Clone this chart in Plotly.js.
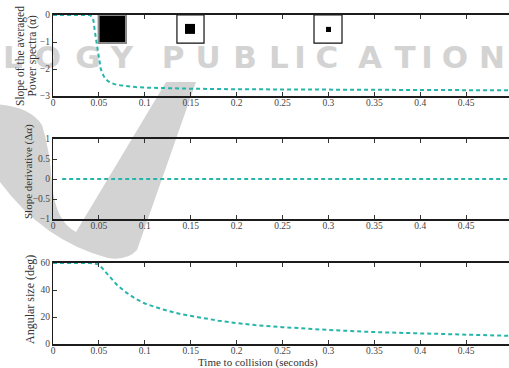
<!DOCTYPE html>
<html><head><meta charset="utf-8">
<script src="https://cdn.plot.ly/plotly-3.0.1.min.js"></script>
<style>html,body{margin:0;padding:0;background:#fff;} #chart{width:509px;height:368px;}</style>
</head><body><div id="chart"></div>
<script>
// ---- data ----
const timeSlope = [0, 0.02, 0.04, 0.042, 0.044, 0.046, 0.048, 0.05, 0.052, 0.055, 0.058, 0.062, 0.067, 0.073, 0.08, 0.09, 0.1, 0.12, 0.15, 0.2, 0.25, 0.3, 0.35, 0.4, 0.45, 0.5];
const slopeValues = [0, 0, 0, -0.05, -0.2, -0.7, -1.2, -1.65, -2.0, -2.25, -2.4, -2.5, -2.56, -2.6, -2.64, -2.67, -2.69, -2.71, -2.73, -2.75, -2.76, -2.77, -2.77, -2.78, -2.78, -2.79];
const timeDeriv = [0.01, 0.05, 0.1, 0.15, 0.2, 0.25, 0.3, 0.35, 0.4, 0.45, 0.5];
const derivValues = [0, 0, 0, 0, 0, 0, 0, 0, 0, 0, 0];
const timeAngle = [0, 0.02, 0.04, 0.05, 0.055, 0.06, 0.065, 0.07, 0.08, 0.09, 0.1, 0.11, 0.12, 0.14, 0.16, 0.18, 0.2, 0.22, 0.25, 0.28, 0.3, 0.35, 0.4, 0.45, 0.5];
const angleValues = [60, 60, 60, 59, 55, 51, 47, 43.5, 38, 33.5, 30, 27.5, 25.5, 22, 19.5, 17.3, 15.5, 14, 12.5, 11.2, 10.4, 8.8, 7.7, 6.8, 6.0];

const xTickVals = [0, 0.05, 0.1, 0.15, 0.2, 0.25, 0.3, 0.35, 0.4, 0.45, 0.5];
const xTickText = ['0', '0.05', '0.1', '0.15', '0.2', '0.25', '0.3', '0.35', '0.4', '0.45', '0.5'];
const slopeTickVals = [-3, -2, -1, 0];
const slopeTickText = ['\u22123', '\u22122', '\u22121', '0'];
const derivTickVals = [-1, -0.5, 0, 0.5, 1];
const derivTickText = ['\u22121', '\u22120.5', '0', '0.5', '1'];
const angleTickVals = [0, 20, 40, 60];
const angleTickText = ['0', '20', '40', '60'];

const titleSlope1 = 'Slope of the averaged';
const titleSlope2 = 'Power spectra (\u03b1)';
const titleDeriv = 'Slope derivative (\u0394\u03b1)';
const titleAngle = 'Angular size (deg)';
const titleTime = 'Time to collision (seconds)';
const watermarkText = 'LOGY PUBLICATION';

// ---- layout helpers ----
const W = 509, H = 368, L = 53, R = 509, T = 15, B = 344;
const px = p => (p - L) / (R - L);
const py = p => (B - p) / (B - T);
const FONT = '"Liberation Serif", "DejaVu Serif", serif';
const LINE = '#1c1c1c';
const TEAL = '#27b5aa';

function xAxis(anchor) {
  return {
    domain: [0, 1], range: [0, 0.4967], anchor: anchor,
    tickmode: 'array', tickvals: xTickVals, ticktext: xTickText,
    ticks: 'inside', ticklen: 4, tickwidth: 1, tickcolor: '#333',
    showline: true, linewidth: 1.6, linecolor: LINE, mirror: 'ticks',
    showgrid: false, zeroline: false, ticklabelstandoff: -3,
    tickfont: {family: FONT, size: 9.5, color: '#444'}
  };
}
function yAxis(anchor, domain, range, vals, text) {
  return {
    domain: domain, range: range, anchor: anchor,
    tickmode: 'array', tickvals: vals, ticktext: text,
    ticks: 'inside', ticklen: 4, tickwidth: 1, tickcolor: '#333',
    showline: true, linewidth: 1.2, linecolor: LINE, mirror: false,
    showgrid: false, zeroline: false,
    tickfont: {family: FONT, size: 9.5, color: '#444'}
  };
}
const lineStyle = {color: TEAL, width: 2, dash: '4px,3px'};

const traces = [
  {x: timeSlope, y: slopeValues, xaxis: 'x', yaxis: 'y', type: 'scatter', mode: 'lines', line: lineStyle, hoverinfo: 'skip'},
  {x: timeDeriv, y: derivValues, xaxis: 'x2', yaxis: 'y2', type: 'scatter', mode: 'lines', line: lineStyle, hoverinfo: 'skip'},
  {x: timeAngle, y: angleValues, xaxis: 'x3', yaxis: 'y3', type: 'scatter', mode: 'lines', line: lineStyle, hoverinfo: 'skip'}
];

// watermark swoosh (decoration, pixel points -> paper)
const swooshPts = [[166,82],[196,82],[137,250],[127,261,108,258],[40,240,-5,175],[-5,104],[30,106,42,125],[50,150,52,185],[56,222,76,232]];
let d = '';
swooshPts.forEach((p, i) => {
  if (i === 0) d += 'M' + px(p[0]) + ',' + py(p[1]);
  else if (p.length === 2) d += ' L' + px(p[0]) + ',' + py(p[1]);
  else d += ' Q' + px(p[0]) + ',' + py(p[1]) + ' ' + px(p[2]) + ',' + py(p[3]);
});
d += ' Z';
const shapes = [
  {type: 'path', xref: 'paper', yref: 'paper', path: d, fillcolor: '#d3d3d3', line: {width: 0}, layer: 'below'}
];
const letterX = [13, 48, 88, 122, null, 173, 208, 245, 279, 300, 327, 370, 405, 427, 455, 492];
watermarkText.split('').forEach((ch, i) => {
  if (ch === ' ') return;
  const cx = letterX[i];
  shapes.push({type: 'rect', xref: 'paper', yref: 'paper', x0: px(cx - 12), x1: px(cx + 12), y0: py(69), y1: py(41),
    line: {width: 0}, fillcolor: 'rgba(0,0,0,0)', layer: 'below',
    label: {text: ch, textposition: 'middle center', font: {family: '"DejaVu Sans", sans-serif', size: 31, color: '#d3d3d3', weight: 'bold'}}});
});
// small image boxes in the top panel
shapes.push(
  {type: 'rect', xref: 'x', yref: 'y', x0: 0.0497, x1: 0.0795, y0: 0, y1: -1.04, line: {color: '#8a8a8a', width: 2}, fillcolor: '#000'},
  {type: 'rect', xref: 'x', yref: 'y', x0: 0.135, x1: 0.1645, y0: 0, y1: -1.04, line: {color: '#111', width: 1.2}, fillcolor: '#fff'},
  {type: 'rect', xref: 'x', yref: 'y', x0: 0.1438, x1: 0.1547, y0: -0.33, y1: -0.70, line: {width: 0}, fillcolor: '#000'},
  {type: 'rect', xref: 'x', yref: 'y', x0: 0.2843, x1: 0.3148, y0: 0, y1: -1.04, line: {color: '#111', width: 1.2}, fillcolor: '#fff'},
  {type: 'rect', xref: 'x', yref: 'y', x0: 0.2974, x1: 0.3028, y0: -0.44, y1: -0.63, line: {width: 0}, fillcolor: '#000'}
);

const ann = (text, x, y, size, angle) => ({text: text, xref: 'paper', yref: 'paper', x: px(x), y: py(y), xanchor: 'center', yanchor: 'middle',
  showarrow: false, textangle: angle, borderpad: 0, font: {family: FONT, size: size, color: '#333'}});

const layout = {
  width: W, height: H,
  margin: {l: L, r: W - R, t: T, b: H - B, pad: 0},
  paper_bgcolor: '#fff', plot_bgcolor: 'rgba(0,0,0,0)',
  showlegend: false,
  xaxis: xAxis('y'), xaxis2: xAxis('y2'), xaxis3: xAxis('y3'),
  yaxis: yAxis('x', [py(96), py(15)], [-3, 0], slopeTickVals, slopeTickText),
  yaxis2: yAxis('x2', [py(219), py(139)], [-1, 1], derivTickVals, derivTickText),
  yaxis3: yAxis('x3', [py(344), py(263)], [0, 60], angleTickVals, angleTickText),
  shapes: shapes,
  annotations: [
    ann(titleSlope1, 20, 56, 11.5, -90),
    ann(titleSlope2, 31.5, 56, 11.5, -90),
    ann(titleDeriv, 28, 172, 11, -90),
    ann(titleAngle, 30, 300, 12, -90),
    ann(titleTime, 258, 362.5, 11, 0)
  ]
};
Plotly.newPlot('chart', traces, layout, {staticPlot: true, displayModeBar: false});
</script>
</body></html>
